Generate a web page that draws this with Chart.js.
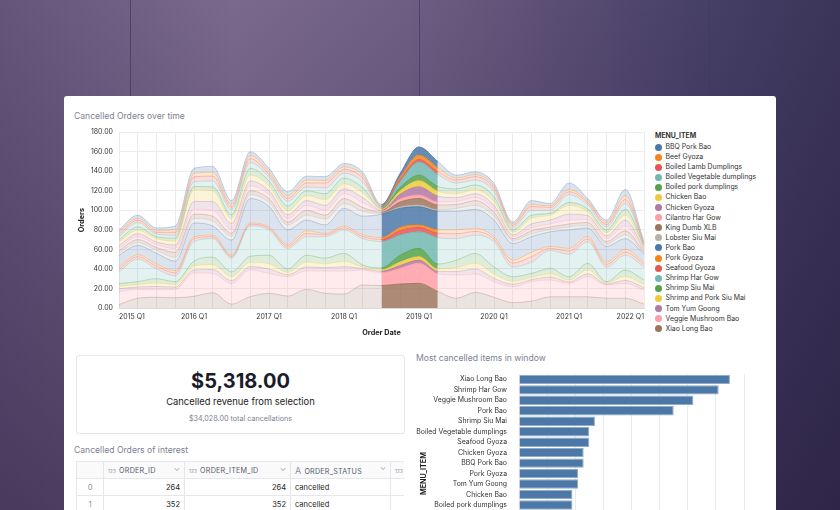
<!DOCTYPE html>
<html><head><meta charset="utf-8">
<script src="https://cdn.jsdelivr.net/npm/chart.js@4.4.0/dist/chart.umd.min.js"></script>
<style>
html,body{margin:0;padding:0;width:840px;height:510px;overflow:hidden;}
body{position:relative;font-family:Inter,"Noto Sans",sans-serif;
background:linear-gradient(180deg,rgba(0,0,0,0) 0%,rgba(25,12,45,0.38) 100%),linear-gradient(90deg,#65557b 0%,#7a698c 28%,#6f5e84 48%,#5b4e74 66%,#463f66 84%,#3b3559 100%);}
.vline{position:absolute;top:0;width:1px;height:510px;background:rgba(70,55,100,0.75);}
#card{position:absolute;left:64px;top:96px;width:712px;height:440px;background:#fff;border-radius:3px;}
.title{position:absolute;font-size:8.6px;color:#7b7f94;white-space:nowrap;}
#legend{position:absolute;left:655px;top:130px;font-size:6.9px;color:#333;}
#legend .lt{font-weight:700;height:11px;line-height:11px;margin-bottom:1px;}
#legend .li{height:10.1px;line-height:10.1px;white-space:nowrap;display:flex;align-items:center;}
#legend .dot{width:7px;height:7px;border-radius:50%;margin-right:3.5px;margin-left:0px;flex:none;}
#kpi{position:absolute;left:76px;top:355px;width:327px;height:77px;border:1px solid #e6e6eb;border-radius:3px;text-align:center;}
#kpi .big{position:absolute;left:0;right:0;top:13px;font-size:20px;font-weight:700;color:#1b1c2a;}
#kpi .mid{position:absolute;left:0;right:0;top:40px;font-size:9.4px;color:#222;}
#kpi .small{position:absolute;left:0;right:0;top:58px;font-size:7.2px;color:#7b7f94;}
#tbl{position:absolute;left:76px;top:461px;width:328px;height:60px;overflow:hidden;}
table{border-collapse:collapse;font-size:7.5px;color:#222;table-layout:fixed;width:394px;}
td{border:1px solid #e6e6eb;padding:0 4px;height:16px;white-space:nowrap;overflow:hidden;}
tr.h td{background:#fafafb;color:#555a6e;font-size:7.2px;letter-spacing:0.2px;}
.ic{font-size:4.6px;color:#8a8ea0;margin-right:3px;}
.chev{float:right;margin-top:1px;}
td.idx{text-align:center;color:#8a8ea0;}
td.num{text-align:right;}
</style></head>
<body>
<div class="vline" style="left:130px"></div>
<div class="vline" style="left:419px"></div>
<div class="vline" style="left:709px"></div>
<div id="card"></div>
<div class="title" style="left:74px;top:111px;">Cancelled Orders over time</div>
<div style="position:absolute;left:70px;top:122px;width:580px;height:222px;"><canvas id="area" width="580" height="222"></canvas></div>
<div id="legend"></div>
<div id="kpi"><div class="big">$5,318.00</div><div class="mid">Cancelled revenue from selection</div><div class="small">$34,028.00 total cancellations</div></div>
<div class="title" style="left:74px;top:445px;">Cancelled Orders of interest</div>
<div id="tbl"></div>
<div class="title" style="left:416px;top:353px;">Most cancelled items in window</div>
<div style="position:absolute;left:410px;top:366px;width:345px;height:232px;"><canvas id="bars" width="345" height="232"></canvas></div>
<script>
// ---------- area chart data ----------
const quarters = ['2015 Q1','2015 Q2','2015 Q3','2015 Q4','2016 Q1','2016 Q2','2016 Q3','2016 Q4','2017 Q1','2017 Q2','2017 Q3','2017 Q4','2018 Q1','2018 Q2','2018 Q3','2018 Q4','2019 Q1','2019 Q2','2019 Q3','2019 Q4','2020 Q1','2020 Q2','2020 Q3','2020 Q4','2021 Q1','2021 Q2','2021 Q3','2021 Q4','2022 Q1'];
const yTicks = [0,20,40,60,80,100,120,140,160,180];
const selectionStart = '2018 Q3';
const selectionEnd = '2019 Q2';

const xiaoLongBao       = [3.5,10,11,10.5,12,15.6,4,11.6,15,12.3,19,15,14.3,23.5,23,24.5,25.2,17,10,16,11,5.5,7,11.5,11.5,11.5,10,10,4];
const veggieMushroomBao = [13.2,9,8,8.5,24,19.8,21,27.4,20.4,19.7,19,22.8,23.5,15.3,13,16,20.5,18,23.8,18.8,15.9,16.3,19.9,17.1,13.7,20.5,13.5,15.2,14.4];
const tomYumGoong       = [3,2.5,3,2.5,3,4,3,3.5,4.5,2,4,3.5,4.5,1.5,1.5,3,3.3,2.5,3.5,5,3.5,2.5,2,3,1.5,3,1,3,2.5];
const shrimpPorkSiuMai  = [2.3,2.5,3.5,2.5,4,5,4,4,5.5,2.5,5,4,5.5,1.5,1.5,3.5,3.5,2.5,4,6,4.5,3,2.5,3.5,2,4,1,4,3];
const shrimpSiuMai      = [3,3,4.5,3,5,7.6,5,6.5,8.6,3.5,7,5.7,8.2,2.2,2,7,8.5,5,7.7,10,7.1,4.7,4,5.4,3.3,6.7,1.4,6.6,4.7];
const shrimpHarGow      = [12,23,10,6,20,19,14,31,26,21,19,22,24,27,27,20.6,17,27,22,18.8,25.8,10,11.7,18.5,23,22.1,15.1,15.2,13.4];
const seafoodGyoza      = [2.8,2.5,2.8,3,3,2,1.7,1.7,1.7,2.2,3.3,1.9,2.2,2.2,2.2,4.5,4.5,4.5,5,3.8,2.9,4,5.5,2.2,3.3,2.9,2.8,3.3,2.8];
const porkGyoza         = [2.2,2,2.2,2,2,1.6,1.3,1.3,1.3,1.8,2.7,1.5,1.8,1.8,1.8,3.4,2.4,3.5,4,3.1,2.3,3,4.4,1.8,2.7,2.3,2.2,2.7,2.2];
const porkBao           = [12,9.5,11,10,14,9.4,15.5,25,21,15,11,8.6,18,19,24,19.5,18.7,19,19,19.5,17,17,16,15,19,9,16,11,8];
const lobsterSiuMai     = [2,3,3,4,4.6,5,4,4,4,5,5,6,5,5,1,1.5,1.7,1.5,3,4,4,3,3,2.5,3,2.5,2.5,4,1];
const kingDumbXLB       = [3,3,3,5,4.5,5,3,4,4,3,5,4,5,4,1,5,6.8,5,4,5,4,2,3,2.5,3,3,2.5,4,1];
const cilantroHarGow    = [2.5,3,3,4,5,6,4,5,4,3.5,5,5,5,5,1,3,3.4,3,3,3,3,2,3,3,4,3,3,5,1.5];
const chickenGyoza      = [2.5,3,2.5,3.5,8,9,6,5,4,4,5,5,5,5,1,5,8.5,6,4,4,4,2,4,4,6,4,3,6,1.5];
const chickenBao        = [3.5,3.5,3.5,4,12,11,5,6,5,4,5,6,5,5,1,3.5,6.2,5,4,4,4,2.5,6,5,9,4,3,5,1.5];
const boiledPorkDump    = [2.5,3.5,2,3,3.2,4,4,7,5,5,5,6,6,5,1,3.5,5.8,5,5,5,5,2.5,3,2,3,3,3,6,1.5];
const boiledVegDump     = [3,4.5,2.5,3,5,6,5,6,4,5,4,6,5,6,1,6,13.3,12,6,5,5,2,5,3,8,4,3,6,1.5];
const boiledLambDump    = [2.5,2.5,2,3,5,5,3,4,3,3,4,5,4,4,1,2,2.7,3,3,3.5,3.5,2.5,4,3,3,2.5,2.5,4,1];
const beefGyoza         = [2,2,2,2.5,3.4,4,2.5,3,2.5,2.5,3,2.5,2.5,2.5,0.5,2.5,4.4,4,2,2,2,1.5,2,1.5,2.5,1.5,2,4,1];
const bbqPorkBao        = [2.5,3,2.5,4,5.3,6,4,4,3.5,4,4,4,3.5,3.5,1.5,4,8.5,6.5,3,2.9,3,2,4,2.5,6.5,2.5,2.5,6.4,1.5];

// stacking order: bottom -> top
const seriesNames = ['Xiao Long Bao','Veggie Mushroom Bao','Tom Yum Goong','Shrimp and Pork Siu Mai','Shrimp Siu Mai','Shrimp Har Gow','Seafood Gyoza','Pork Gyoza','Pork Bao','Lobster Siu Mai','King Dumb XLB','Cilantro Har Gow','Chicken Gyoza','Chicken Bao','Boiled pork dumplings','Boiled Vegetable dumplings','Boiled Lamb Dumplings','Beef Gyoza','BBQ Pork Bao'];
const seriesValues = [xiaoLongBao,veggieMushroomBao,tomYumGoong,shrimpPorkSiuMai,shrimpSiuMai,shrimpHarGow,seafoodGyoza,porkGyoza,porkBao,lobsterSiuMai,kingDumbXLB,cilantroHarGow,chickenGyoza,chickenBao,boiledPorkDump,boiledVegDump,boiledLambDump,beefGyoza,bbqPorkBao];
const seriesColors = ['#9d755d','#ff9da6','#b279a2','#eeca3b','#54a24b','#72b7b2','#e45756','#f58518','#4c78a8','#bab0ac','#9d755d','#ff9da6','#b279a2','#eeca3b','#54a24b','#72b7b2','#e45756','#f58518','#4c78a8'];

// ---------- bar chart data ----------
const barItems = ['Xiao Long Bao','Shrimp Har Gow','Veggie Mushroom Bao','Pork Bao','Shrimp Siu Mai','Boiled Vegetable dumplings','Seafood Gyoza','Chicken Gyoza','BBQ Pork Bao','Pork Gyoza','Tom Yum Goong','Chicken Bao','Boiled pork dumplings','Beef Gyoza','Cilantro Har Gow','Boiled Lamb Dumplings','King Dumb XLB','Shrimp and Pork Siu Mai','Lobster Siu Mai'];
const barValues = [75,71,62,55,27,25,25,23,23,21,21,19,19,17,15,13,13,11,6];
const barTicks = [0,10,20,30,40,50,60,70,80];

// ---------- table data ----------
const tableColumns = ['ORDER_ID','ORDER_ITEM_ID','ORDER_STATUS'];
const tableRows = [[264,264,'cancelled'],[352,352,'cancelled']];

function rgba(hex,a){const n=parseInt(hex.slice(1),16);return `rgba(${n>>16},${(n>>8)&255},${n&255},${a})`;}
const sIdx = quarters.indexOf(selectionStart), eIdx = quarters.indexOf(selectionEnd);
const inSel = c => c.p0DataIndex >= sIdx && c.p1DataIndex <= eIdx;

Chart.defaults.font.family = 'Inter, "Noto Sans", sans-serif';
Chart.defaults.color = '#333';

const datasets = seriesNames.map((name,i)=>({
  label:name,
  data:seriesValues[i],
  fill: i===0 ? 'origin' : '-1',
  backgroundColor: rgba(seriesColors[i],0.2),
  borderColor: rgba(seriesColors[i],0.35),
  borderWidth:0.9,
  pointRadius:0,
  cubicInterpolationMode:'monotone',
  segment:{
    backgroundColor: c => inSel(c) ? rgba(seriesColors[i],0.85) : rgba(seriesColors[i],0.2),
    borderColor: c => inSel(c) ? seriesColors[i] : rgba(seriesColors[i],0.35)
  }
}));

new Chart(document.getElementById('area'),{
  type:'line',
  data:{labels:quarters,datasets},
  options:{
    responsive:false,animation:false,
    layout:{padding:{left:0,right:6,top:10,bottom:0}},
    plugins:{legend:{display:false},tooltip:{enabled:false}},
    scales:{
      x:{
        offset:false,
        grid:{color:'#ececef',drawTicks:false},
        border:{color:'#dcdce0'},
        ticks:{autoSkip:false,maxRotation:0,align:'inner',padding:5,font:{size:7},color:'#333',
          callback:(v,i)=> quarters[i].endsWith('Q1') ? quarters[i] : ''},
        title:{display:true,text:'Order Date',font:{size:7.3,weight:'bold'},color:'#222',padding:{top:0,bottom:7}},
        afterFit:s=>{s.height=36;}
      },
      y:{
        stacked:true,min:yTicks[0],max:yTicks[yTicks.length-1],
        grid:{color:'#ececef',drawTicks:false},
        border:{display:false},
        afterBuildTicks:s=>{s.ticks=yTicks.map(v=>({value:v}));},
        ticks:{padding:6,font:{size:7},color:'#333',callback:v=>Number(v).toFixed(2)},
        title:{display:true,text:'Orders',font:{size:7.3,weight:'bold'},color:'#222',padding:{top:7.5,bottom:0}},
        afterFit:s=>{s.width=49;}
      }
    }
  }
});

// HTML legend (top of stack first)
const lg = document.getElementById('legend');
let lh = '<div class="lt">MENU_ITEM</div>';
for(let i=seriesNames.length-1;i>=0;i--){
  lh += `<div class="li"><span class="dot" style="background:${seriesColors[i]}"></span>${seriesNames[i]}</div>`;
}
lg.innerHTML = lh;

// bar chart
new Chart(document.getElementById('bars'),{
  type:'bar',
  data:{labels:barItems,datasets:[{data:barValues,backgroundColor:'#4c78a8',borderColor:'#91abcb',borderWidth:1,categoryPercentage:1,barPercentage:0.9}]},
  options:{
    indexAxis:'y',responsive:false,animation:false,
    layout:{padding:{left:0,right:11,top:5,bottom:0}},
    plugins:{legend:{display:false},tooltip:{enabled:false}},
    scales:{
      x:{min:barTicks[0],max:barTicks[barTicks.length-1],
        afterBuildTicks:s=>{s.ticks=barTicks.map(v=>({value:v}));},
        grid:{color:'#ececef',drawTicks:false},border:{display:false},
        ticks:{font:{size:7},color:'#333'},
        afterFit:s=>{s.height=25;}
      },
      y:{grid:{display:false},border:{display:false},
        ticks:{autoSkip:false,padding:4,font:{size:6.9},color:'#333'},
        title:{display:true,text:'MENU_ITEM',font:{size:7.2,weight:'bold'},color:'#222',padding:{top:10,bottom:0}},
        afterFit:s=>{s.width=109;}
      }
    }
  }
});

// table
const chev = '<svg class="chev" width="6" height="5" viewBox="0 0 6 5"><polyline points="0.8,1.2 3,3.6 5.2,1.2" fill="none" stroke="#8a8ea0" stroke-width="0.8"/></svg>';
const icons = ['123','123','A'];
let th = '<table><colgroup><col style="width:27px"><col style="width:81px"><col style="width:106px"><col style="width:100px"><col style="width:80px"></colgroup>';
th += '<tr class="h"><td></td>';
tableColumns.forEach((c,i)=>{
  const ic = icons[i]==='A' ? '<span style="font-size:9px;color:#8a8ea0;margin-right:3px;">A</span>' : '<span class="ic">123</span>';
  th += `<td>${ic}${c}${chev}</td>`;
});
th += '<td><span class="ic">123</span></td></tr>';
tableRows.forEach((r,i)=>{
  th += `<tr><td class="idx">${i}</td><td class="num">${r[0]}</td><td class="num">${r[1]}</td><td>${r[2]}</td><td></td></tr>`;
});
th += '</table>';
document.getElementById('tbl').innerHTML = th;
</script>
</body></html>
